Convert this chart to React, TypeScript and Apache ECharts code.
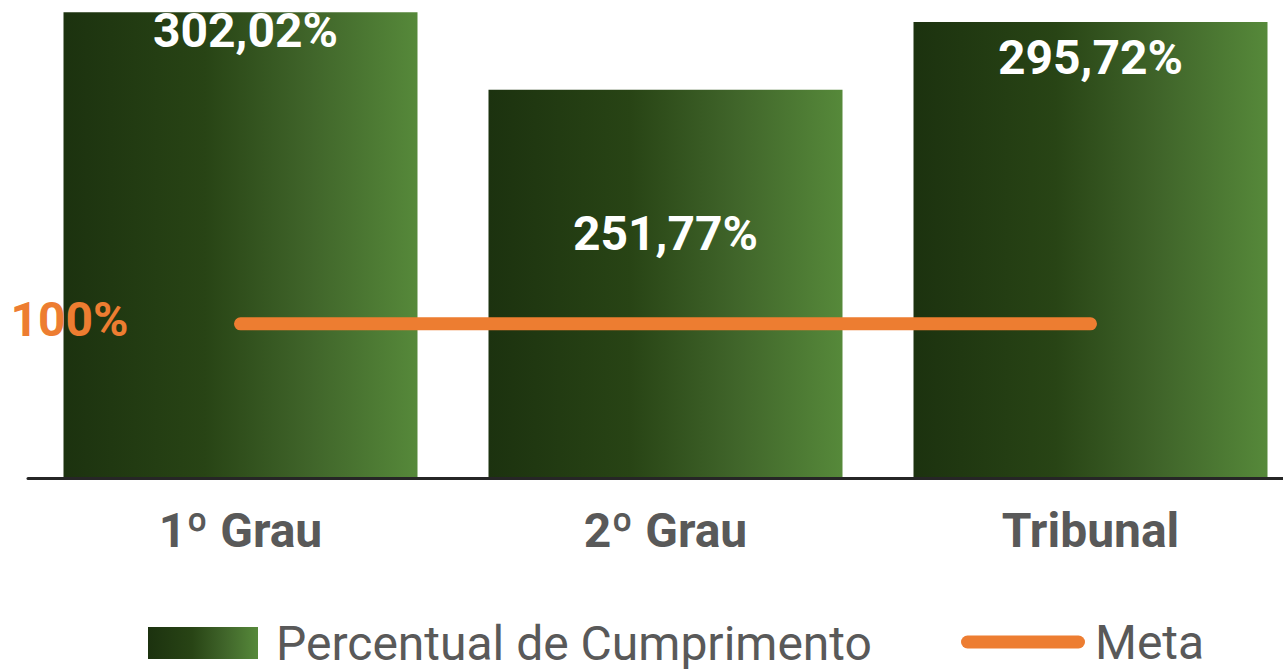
import React, { useEffect, useRef } from "react";
import * as echarts from "echarts";

const categories = ["1º Grau", "2º Grau", "Tribunal"];
const cumprimento = [302.02, 251.77, 295.72];
const meta = [100, 100, 100];
const seriesNames = ["Percentual de Cumprimento", "Meta"];

// label placement tweaks (style only)
const labelOffsets: number[][] = [[5, -6], [0, 120], [0, 11]];

const fmt = (v: number) => v.toFixed(2).replace(".", ",") + "%";

export default function App() {
  const ref = useRef<HTMLDivElement>(null);
  useEffect(() => {
    if (!ref.current) return;
    const chart = echarts.init(ref.current, null, { renderer: "svg" });
    const grad = new echarts.graphic.LinearGradient(0, 0, 1, 0, [
      { offset: 0, color: "#1c320f" },
      { offset: 0.4, color: "#284415" },
      { offset: 0.7, color: "#40652a" },
      { offset: 1, color: "#56893a" },
    ]);
    const font = "Roboto, 'Liberation Sans', sans-serif";
    chart.setOption({
      animation: false,
      grid: { left: 28, top: 0, width: 1275, height: 478 },
      xAxis: {
        type: "category",
        data: categories,
        axisLine: { lineStyle: { color: "#262626", width: 3 } },
        axisTick: { show: false },
        axisLabel: {
          fontSize: 48,
          fontWeight: "bold",
          color: "#595959",
          fontFamily: font,
          margin: 28,
        },
        z: 5,
      },
      yAxis: {
        type: "value",
        min: 0,
        max: 310,
        show: false,
        splitLine: { show: false },
      },
      legend: [
        {
          data: [{ name: seriesNames[0], icon: "rect" }],
          left: 148,
          top: 619,
          padding: 0,
          itemWidth: 110,
          itemHeight: 32,
          textStyle: {
            fontSize: 48,
            color: "#595959",
            fontFamily: font,
            padding: [0, 0, 0, 13],
          },
        },
        {
          data: [
            {
              name: seriesNames[1],
              icon: "path://M6.5,0H117.5A6.5,6.5 0 0 1 117.5,13H6.5A6.5,6.5 0 0 1 6.5,0Z",
            },
          ],
          left: 961,
          top: 618,
          padding: 0,
          itemWidth: 124,
          itemHeight: 13,
          textStyle: {
            fontSize: 48,
            color: "#595959",
            fontFamily: font,
            padding: [0, 0, 0, 5],
          },
        },
      ],
      series: [
        {
          name: seriesNames[0],
          type: "bar",
          barWidth: 354,
          itemStyle: { color: grad },
          data: cumprimento.map((v, i) => ({
            value: v,
            label: {
              show: true,
              position: "insideTop",
              distance: 0,
              offset: labelOffsets[i],
              formatter: (p: any) => fmt(p.value),
              color: "#ffffff",
              fontSize: 48,
              fontWeight: "bold",
              fontFamily: font,
            },
          })),
        },
        {
          name: seriesNames[1],
          type: "line",
          symbol: "circle",
          symbolSize: 0,
          showSymbol: true,
          lineStyle: { color: "#ed7d31", width: 13, cap: "round" },
          itemStyle: { color: "#ed7d31" },
          z: 10,
          data: meta.map((v, i) => ({
            value: v,
            label: {
              show: i === 0,
              position: "left",
              distance: 112,
              offset: [0, -4],
              formatter: () => v + "%",
              color: "#ed7d31",
              fontSize: 48,
              fontWeight: "bold",
              fontFamily: font,
            },
          })),
        },
      ],
    });
    return () => chart.dispose();
  }, []);
  return (
    <div
      style={{
        position: "absolute",
        left: 0,
        top: 0,
        width: 1283,
        height: 669,
        overflow: "hidden",
      }}
    >
      <div ref={ref} style={{ width: 1310, height: 669 }} />
    </div>
  );
}
